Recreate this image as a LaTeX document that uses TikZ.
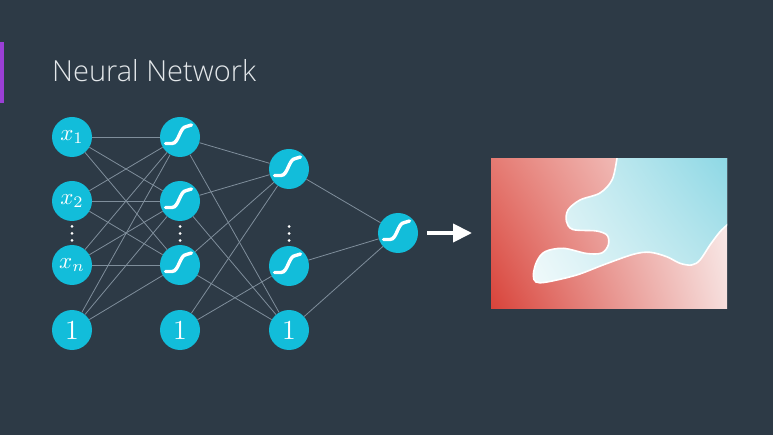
\documentclass[tikz,border=0pt]{standalone}
\usepackage{fontspec}
\IfFontExistsTF{Open Sans Light}{\newfontfamily\titlefont{Open Sans Light}}{\newfontfamily\titlefont{Open Sans}}
\usetikzlibrary{arrows.meta,shadings}
\definecolor{bg}{HTML}{2D3A46}
\definecolor{neuronc}{HTML}{12BDDA}
\definecolor{edgec}{HTML}{7F8E9B}
\definecolor{purp}{HTML}{9B3FD6}
\definecolor{titlec}{HTML}{E3E7EA}
\definecolor{redLL}{HTML}{D8433A}
\definecolor{redUL}{HTML}{E57A72}
\definecolor{redLR}{HTML}{F6DEDC}
\definecolor{redUR}{HTML}{FAF0EF}
\definecolor{bluLL}{HTML}{FFFFFF}
\definecolor{bluUL}{HTML}{EEF8F8}
\definecolor{bluLR}{HTML}{C0E8EE}
\definecolor{bluUR}{HTML}{8ED8E5}
\tikzset{
  neuron/.style={circle, fill=neuronc, minimum size=40pt, inner sep=0pt, text=white},
  conn/.style={draw=edgec, line width=0.8pt},
  dotc/.style={circle, fill=white, minimum size=3pt, inner sep=0pt},
  sig/.pic={\draw[white, line width=3.4pt, line cap=round] (-14.5,6.5) -- (-8,6.5) .. controls (-1,6.5) and (-0.5,-10) .. (6.5,-10.5) -- (11.5,-12);}
}
\begin{document}
\begin{tikzpicture}[x=1pt,y=-1pt]
\useasboundingbox (0,0) rectangle (773,435);
\fill[bg] (0,0) rectangle (773,435);
\fill[purp] (0,42) rectangle (3.5,103);
\node[anchor=base west, inner sep=0pt, text=titlec, font=\titlefont\fontsize{29}{34}\selectfont] (title) at (52,82) {Neural Network};

% layer 1
\node[neuron] (x1) at (72,137) {\scalebox{2.3}{$x_1$}};
\node[neuron] (x2) at (72,201) {\scalebox{2.3}{$x_2$}};
\node[neuron] (xn) at (72,265) {\scalebox{2.3}{$x_n$}};
\node[neuron] (b1) at (72,330) {\scalebox{2.75}{1}};
% layer 2
\node[neuron] (s1) at (180,137) {};
\node[neuron] (s2) at (180,201) {};
\node[neuron] (s3) at (180,265) {};
\node[neuron] (b2) at (180,330) {\scalebox{2.75}{1}};
% layer 3
\node[neuron] (t1) at (289,169) {};
\node[neuron] (t2) at (289,266) {};
\node[neuron] (b3) at (289,330) {\scalebox{2.75}{1}};
% output
\node[neuron] (o) at (398,233) {};

\foreach \n in {s1,s2,s3,t1,t2,o} { \pic at (\n) {sig}; }

% dots
\foreach \c/\x in {a/72,b/180,c/289} {
  \node[dotc] (d\c1) at (\x,226.5) {};
  \node[dotc] (d\c2) at (\x,233.5) {};
  \node[dotc] (d\c3) at (\x,240.5) {};
}

% edges layer 1 -> 2
\foreach \a in {x1,x2,xn,b1} { \foreach \b in {s1,s2,s3} { \draw[conn] (\a) -- (\b); } }
% edges layer 2 -> 3
\foreach \a in {s1,s2,s3,b2} { \draw[conn] (\a) -- (t1); }
\foreach \a in {s1,s2,s3} { \draw[conn] (\a) -- (b3); }
\draw[conn] (b2) -- (t2);
% edges layer 3 -> output
\foreach \a in {t1,t2,b3} { \draw[conn] (\a) -- (o); }

% arrow
\coordinate (a1) at (427,233);
\coordinate (a2) at (472,233);
\draw[white, line width=4pt, -{Triangle[length=19pt,width=18pt]}] (a1) -- (a2);

% decision picture
\begin{scope}
\clip (491,159) rectangle (727,309);
\shade[lower left=redLL, upper left=redUL, lower right=redLR, upper right=redUR] (491,159) rectangle (727,309);
\begin{scope}
\clip plot[smooth,tension=0.55] coordinates {(617.5,150) (616.7,160) (612,180) (600,193) (580,200) (568,210) (566.5,221.5) (573,229.5) (596.7,231) (607.3,235.5) (608.3,245) (601.7,253) (586.7,253.5) (563.3,248.3) (545,251.7) (536.7,261.7) (533.3,275) (536,282) (547,282) (576.7,275) (603,265) (633.3,254.3) (650,252.3) (666.7,256.7) (680,263.3) (691.7,265) (700,260) (710,245) (720,231.7) (727,225) (735,216)} -- (745,150) -- cycle;
\shade[lower left=bluLL, upper left=bluUL, lower right=bluLR, upper right=bluUR] (491,159) rectangle (727,309);
\end{scope}
\draw[white, line width=1.6pt] plot[smooth,tension=0.55] coordinates {(617.5,150) (616.7,160) (612,180) (600,193) (580,200) (568,210) (566.5,221.5) (573,229.5) (596.7,231) (607.3,235.5) (608.3,245) (601.7,253) (586.7,253.5) (563.3,248.3) (545,251.7) (536.7,261.7) (533.3,275) (536,282) (547,282) (576.7,275) (603,265) (633.3,254.3) (650,252.3) (666.7,256.7) (680,263.3) (691.7,265) (700,260) (710,245) (720,231.7) (727,225) (735,216)};
\end{scope}
\end{tikzpicture}
\end{document}
